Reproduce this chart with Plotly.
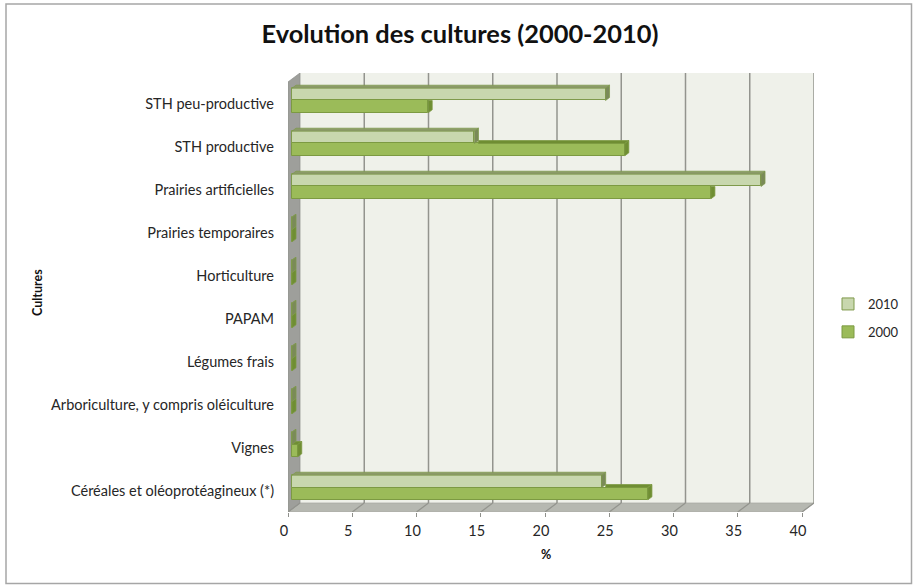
import plotly.graph_objects as go

categories = ["Céréales et oléoprotéagineux (*)", "Vignes", "Arboriculture, y compris oléiculture",
              "Légumes frais", "PAPAM", "Horticulture", "Prairies temporaires",
              "Prairies artificielles", "STH productive", "STH peu-productive"]
values_2010 = [24.1, 0, 0, 0, 0, 0, 0, 36.5, 14.2, 24.4]
values_2000 = [27.7, 0.45, 0, 0, 0, 0, 0, 32.6, 25.9, 10.6]
x_ticks = [0, 5, 10, 15, 20, 25, 30, 35, 40]

W, H = 913, 585
ML, MR = 12, 90            # side margins; the right one holds the legend
PW = W - MR - ML
DX, DY = 0.934, 0.209      # depth of the 3D box, in axis units
BAR_H = 0.286
BX, BY = DX / 3, DY / 3    # depth offset of a bar's front face, and its own depth


def px(x):
    return (x - ML) / PW


def poly(xs, ys, fill, line=None, width=0.75):
    return go.Scatter(x=xs, y=ys, mode="lines", fill="toself", fillcolor=fill,
                      line=dict(color=line or fill, width=width), hoverinfo="skip",
                      showlegend=False)


def path(points, fill, line, width=0.75):
    d = "M " + " L ".join(f"{x},{y}" for x, y in points) + " Z"
    return dict(type="path", path=d, xref="x", yref="y", fillcolor=fill,
                line=dict(color=line, width=width), layer="below")


def seg(p0, p1, color, width):
    return dict(type="line", xref="x", yref="y", x0=p0[0], y0=p0[1], x1=p1[0], y1=p1[1],
                line=dict(color=color, width=width), layer="below")


ymin, ymax = -0.5, len(categories) - 0.5
xmax = x_ticks[-1]
shapes = [
    dict(type="rect", xref="paper", yref="paper", x0=px(6), x1=px(911.5), y0=1 - 583.5 / H, y1=1 - 4 / H,
         line=dict(color="#A6A6A6", width=1.5), layer="below"),
    path([(DX, ymin + DY), (xmax + DX, ymin + DY), (xmax + DX, ymax + DY), (DX, ymax + DY)], "#EFF1EA", "#EFF1EA"),
    path([(0, ymin), (xmax, ymin), (xmax + DX, ymin + DY), (DX, ymin + DY)], "#B6B8B1", "#A8AAA3"),
    path([(0, ymin), (DX, ymin + DY), (DX, ymax + DY), (0, ymax)], "#9E9F9B", "#8F908C"),
]
for v in x_ticks:
    shapes.append(seg((v, ymin), (v + DX, ymin + DY), "#93948E", 1.25))
    if v > 0:
        shapes.append(seg((v + DX, ymin + DY), (v + DX, ymax + DY), "#93948E", 1.5))

fig = go.Figure()
FACE = {"2010": ("#C8D7AE", "#7F9A4C", "#8B9A68", "#7A8A58"),
        "2000": ("#9BBB59", "#7C9A42", "#6F8E33", "#6F8E33")}

# front faces
for name, vals, offset in (("2010", values_2010, BAR_H / 2), ("2000", values_2000, -BAR_H / 2)):
    fig.add_trace(go.Bar(x=vals, base=BX, y=[i + BY + offset for i in range(len(vals))],
                         orientation="h", width=BAR_H, name=name, legendgroup=name,
                         marker=dict(color=FACE[name][0], line=dict(color=FACE[name][1], width=1))))


def rings(rs):
    xs, ys = [], []
    for r in rs:
        for x, y in r + [r[0]]:
            xs.append(x)
            ys.append(y)
        xs.append(None)
        ys.append(None)
    return xs, ys


# depth faces of the 2000 series first (they sit under the 2010 series)
top00, side00, top10, side10 = [], [], [], []
for i, (a, b) in enumerate(zip(values_2010, values_2000)):
    # 2000
    x1 = BX + b
    y0 = i + BY - BAR_H
    y1 = i + BY
    start = BX + a + BX if a > 0 else BX
    if x1 > start:
        top00.append([(start, y1), (x1, y1), (x1 + BX, y1 + BY), (start, y1 + BY)])
    if a > b:
        side00.append([(x1, y0), (x1 + BX, y0 + BY), (x1 + BX, y1), (x1, y1)])
    else:
        side00.append([(x1, y0), (x1 + BX, y0 + BY), (x1 + BX, y1 + BY), (x1, y1)])
    # 2010
    x1 = BX + a
    y0 = i + BY
    y1 = i + BY + BAR_H
    top10.append([(BX, y1), (x1, y1), (x1 + BX, y1 + BY), (BX + BX, y1 + BY)])
    side10.append([(x1, y0), (x1 + BX, y0 + BY), (x1 + BX, y1 + BY), (x1, y1)])

for rs, key, slot in ((top00, "2000", 2), (side00, "2000", 3), (top10, "2010", 2), (side10, "2010", 3)):
    xs, ys = rings(rs)
    fig.add_trace(poly(xs, ys, FACE[key][slot], FACE[key][1]))

TXT = "#262626"
fig.update_layout(
    width=W, height=H, autosize=False, margin=dict(l=ML, r=MR, t=0, b=0),
    paper_bgcolor="white", plot_bgcolor="rgba(0,0,0,0)", barmode="overlay", bargap=0,
    font=dict(family="Lato", size=14, color=TXT),
    title=dict(text="<b>Evolution des cultures (2000-2010)</b>", x=460 / W, xanchor="center",
               y=1 - 34 / H, yanchor="middle", font=dict(family="Lato", size=25.4, color="#111111")),
    xaxis=dict(domain=[px(288), px(814)], range=[0, xmax + DX], tickmode="array", tickvals=x_ticks,
               showgrid=False, zeroline=False, showline=False, ticks="outside", ticklen=4,
               tickcolor="#8F908C", ticklabelshift=-4, ticklabelstandoff=2, tickfont=dict(size=14.5)),
    yaxis=dict(domain=[1 - 512 / H, 1 - 73 / H], range=[ymin, ymax + DY], tickmode="array",
               tickvals=list(range(len(categories))), ticktext=categories, showgrid=False,
               zeroline=False, showline=False, ticks="", ticklabelstandoff=13, tickfont=dict(size=14.5)),
    legend=dict(xref="container", yref="container", x=828 / W, y=1 - 318 / H, xanchor="left", yanchor="middle",
                traceorder="grouped", tracegroupgap=8, font=dict(size=13), bgcolor="rgba(0,0,0,0)", borderwidth=0),
    annotations=[
        dict(text="<b>Cultures</b>", xref="paper", yref="paper", x=px(37), y=1 - 293 / H, textangle=-90,
             xanchor="center", yanchor="middle", showarrow=False, font=dict(size=12.5, color="#111111")),
        dict(text="<b>%</b>", xref="paper", yref="paper", x=px(546), y=1 - 554 / H,
             xanchor="center", yanchor="middle", showarrow=False, font=dict(size=12.5, color="#111111")),
    ],
    shapes=shapes,
)
fig.write_html("out.html", config={"displayModeBar": False},
               post_script="document.body.style.margin='0';")
